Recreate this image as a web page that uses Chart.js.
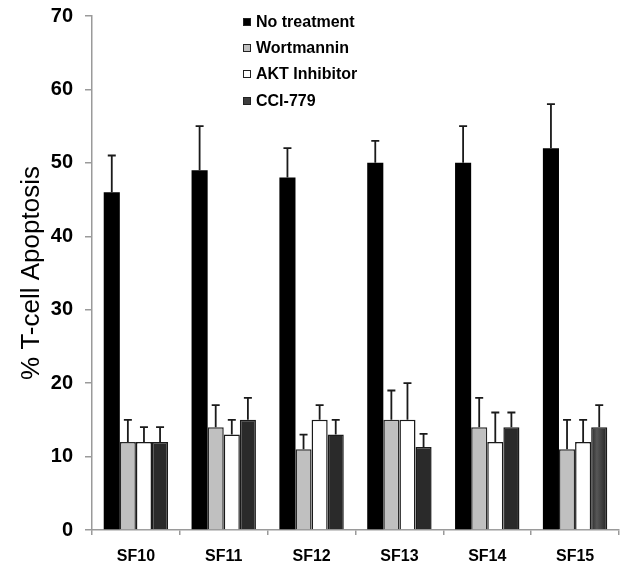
<!DOCTYPE html>
<html>
<head>
<meta charset="utf-8">
<script src="https://cdn.jsdelivr.net/npm/chart.js@4.4.0/dist/chart.umd.min.js"></script>
<style>
  body { margin: 0; background: #fff; }
</style>
</head>
<body>
<canvas id="chart" width="624" height="569"></canvas>
<script>
// data
const cellLines = ["SF10", "SF11", "SF12", "SF13", "SF14", "SF15"];
const noTreatment = [46, 49, 48, 50, 50, 52];
const noTreatmentErr = [5, 6, 4, 3, 5, 6];
const wortmannin = [12, 14, 11, 15, 14, 11];
const wortmanninErr = [3, 3, 2, 4, 4, 4];
const aktInhibitor = [12, 13, 15, 15, 12, 12];
const aktInhibitorErr = [2, 2, 2, 5, 4, 3];
const cci779 = [12, 15, 13, 11.3, 14, 14];
const cci779Err = [2, 3, 2, 1.8, 2, 3];
const yTicks = [0, 10, 20, 30, 40, 50, 60, 70];

const fontFamily = '"Liberation Sans", Arial, sans-serif';
const axisGray = "#9a9a9a";

// darker edges on the CCI-779 bars, like the original
const shadedBars = {
  id: "shadedBars",
  beforeDatasetsDraw(chart) {
    let c = chart.ctx;
    let meta = chart.getDatasetMeta(3);
    meta.data.forEach(bar => {
      let g = c.createLinearGradient(bar.x - bar.width / 2, 0, bar.x + bar.width / 2, 0);
      g.addColorStop(0, "#2a2a2a");
      g.addColorStop(0.35, "#575757");
      g.addColorStop(1, "#232323");
      bar.options.backgroundColor = g;
    });
  }
};

// upward error bars with a small cap
const errorBars = {
  id: "errorBars",
  afterDatasetsDraw(chart) {
    let ctx = chart.ctx;
    let yScale = chart.scales.y;
    ctx.save();
    ctx.strokeStyle = "#1a1a1a";
    ctx.lineWidth = 1.8;
    chart.data.datasets.forEach((ds, i) => {
      let meta = chart.getDatasetMeta(i);
      meta.data.forEach((bar, j) => {
        let top = yScale.getPixelForValue(ds.data[j] + ds.errors[j]);
        ctx.beginPath();
        ctx.moveTo(bar.x, bar.y);
        ctx.lineTo(bar.x, top);
        ctx.moveTo(bar.x - 4, top);
        ctx.lineTo(bar.x + 4, top);
        ctx.stroke();
      });
    });
    ctx.restore();
  }
};

// legend drawn inside the plot, stacked
const innerLegend = {
  id: "innerLegend",
  afterDraw(chart) {
    let ctx = chart.ctx;
    let x = 243;
    let rows = [22, 48, 74, 101];
    ctx.save();
    ctx.font = "bold 16px " + fontFamily;
    ctx.textBaseline = "middle";
    chart.data.datasets.forEach((ds, i) => {
      let y = rows[i];
      ctx.fillStyle = ds.legendColor;
      ctx.fillRect(x, y - 4, 8, 8);
      ctx.strokeStyle = "#222";
      ctx.lineWidth = 1;
      ctx.strokeRect(x + 0.5, y - 3.5, 7, 7);
      ctx.fillStyle = "#000";
      ctx.fillText(ds.label, x + 13, y + 1);
    });
    ctx.restore();
  }
};

function makeSet(label, values, errs, fill, border, bw) {
  return {
    label: label,
    data: values,
    errors: errs,
    legendColor: fill,
    backgroundColor: fill,
    borderColor: border,
    borderWidth: bw,
    categoryPercentage: 0.733,
    barPercentage: 1.0
  };
}

let ctx = document.getElementById("chart").getContext("2d");
let myChart = new Chart(ctx, {
  type: "bar",
  data: {
    labels: cellLines,
    datasets: [
      makeSet("No treatment", noTreatment, noTreatmentErr, "#000000", "#000000", 0),
      makeSet("Wortmannin", wortmannin, wortmanninErr, "#c0c0c0", "#2a2a2a", 1.5),
      makeSet("AKT Inhibitor", aktInhibitor, aktInhibitorErr, "#ffffff", "#1a1a1a", 1.5),
      makeSet("CCI-779", cci779, cci779Err, "#3d3d3d", "#1a1a1a", 1.5)
    ]
  },
  options: {
    responsive: false,
    animation: false,
    layout: { padding: { top: 16, right: 5, left: 0, bottom: 0 } },
    plugins: {
      legend: { display: false },
      tooltip: { enabled: false }
    },
    scales: {
      x: {
        grid: { offset: true, drawOnChartArea: false, drawTicks: true, tickLength: 5, color: axisGray, lineWidth: 1.5 },
        border: { color: axisGray, width: 1.5 },
        ticks: { color: "#000", padding: 12, font: { family: fontFamily, size: 16, weight: "bold" } },
        afterFit: function (scale) {
          scale.height = 39;
          scale.paddingLeft = 0;
          scale.paddingRight = 0;
        }
      },
      y: {
        min: 0,
        max: 70,
        afterBuildTicks: function (scale) {
          scale.ticks = yTicks.map(v => ({ value: v }));
        },
        grid: { drawOnChartArea: false, drawTicks: true, tickLength: 7, color: axisGray, lineWidth: 1.5 },
        border: { color: axisGray, width: 1.5 },
        ticks: { color: "#000", padding: 12, font: { family: fontFamily, size: 20, weight: "bold" } },
        title: {
          display: true,
          text: "% T-cell Apoptosis",
          color: "#000",
          padding: { top: 16, bottom: 0 },
          font: { family: fontFamily, size: 26, weight: "normal" }
        },
        afterFit: function (scale) {
          scale.width = 92;
          scale.paddingTop = 8;
          scale.paddingBottom = 8;
        }
      }
    }
  },
  plugins: [shadedBars, errorBars, innerLegend]
});
</script>
</body>
</html>
